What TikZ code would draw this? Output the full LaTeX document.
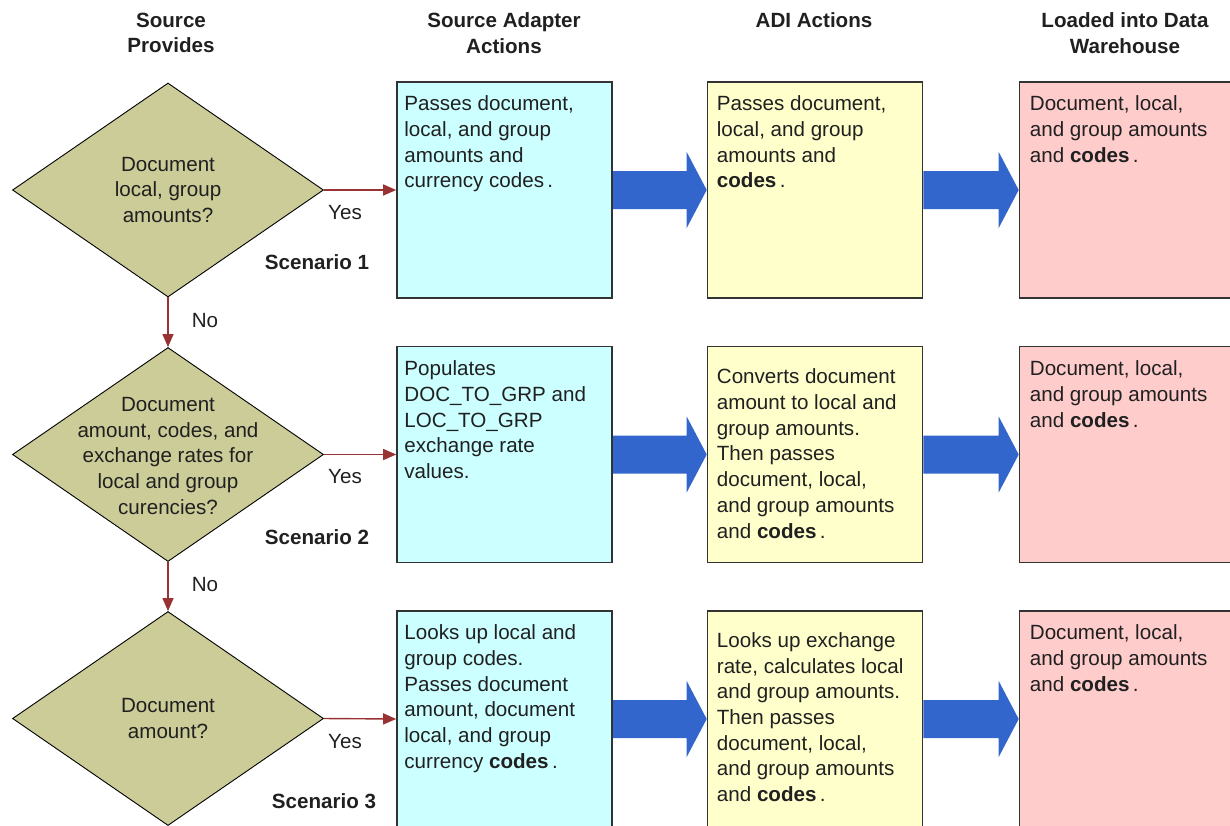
\documentclass[tikz,border=0pt]{standalone}
\usepackage{fontspec}
\setmainfont{Liberation Sans}
\usetikzlibrary{shapes.geometric,arrows.meta,calc,backgrounds}
\definecolor{dfill}{HTML}{CCCC99}
\definecolor{cfill}{HTML}{CCFFFF}
\definecolor{yfill}{HTML}{FFFFCC}
\definecolor{pfill}{HTML}{FFCCCC}
\definecolor{bluearr}{HTML}{3366CC}
\definecolor{redarr}{HTML}{993333}
\definecolor{txtc}{HTML}{202020}
\begin{document}
\begin{tikzpicture}[x=1pt,y=-1pt,
  every node/.style={font=\fontsize{20.6}{25.7}\selectfont, text=txtc},
  dia/.style={diamond, draw=black, line width=0.9pt, fill=dfill, minimum width=311pt, minimum height=214pt, inner sep=0pt},
  box/.style={rectangle, draw=black!80, line width=1.6pt, minimum width=215pt, minimum height=216pt, inner sep=0pt},
  txt/.style={anchor=north west, align=left, inner sep=0pt},
  dtxt/.style={align=center, inner sep=0pt},
  hdr/.style={align=center, inner sep=0pt, font=\fontsize{20.6}{25.7}\selectfont\bfseries},
  flow/.style={draw=redarr, line width=1.4pt, -{Triangle[length=13pt,width=11pt]}},
  lbl/.style={inner sep=0pt},
  scen/.style={inner sep=0pt, font=\fontsize{20.6}{25.7}\selectfont\bfseries},
  big/.style={fill=bluearr}
]
\useasboundingbox (0,0) rectangle (1230,825);
\clip (0,0) rectangle (1230,825);

% headers
\node[hdr] (h1) at (171,33) {Source\\Provides};
\node[hdr] (h2) at (504,33) {Source Adapter\\Actions};
\node[hdr] (h3) at (814,20) {ADI Actions};
\node[hdr] (h4) at (1125,33) {Loaded into Data\\Warehouse};

% diamonds
\node[dia] (d1) at (168,190) {};
\node[dia] (d2) at (168,454.5) {};
\node[dia] (d3) at (168,718.5) {};
\node[dtxt] (d1t) at (d1.center) {Document\\local, group\\amounts?};
\node[dtxt] (d2t) at ($(d2.center)+(0,1.5)$) {Document\\amount, codes, and\\exchange rates for\\local and group\\curencies?};
\node[dtxt] (d3t) at (d3.center) {Document\\amount?};

% boxes
\node[box, fill=cfill] (a1) at (504.5,190) {};
\node[box, fill=cfill] (a2) at (504.5,454.5) {};
\node[box, fill=cfill] (a3) at (504.5,719) {};
\node[box, fill=yfill] (b1) at (815,190) {};
\node[box, fill=yfill] (b2) at (815,454.5) {};
\node[box, fill=yfill] (b3) at (815,719) {};
\node[box, fill=pfill] (c1) at (1127,190) {};
\node[box, fill=pfill] (c2) at (1127,454.5) {};
\node[box, fill=pfill] (c3) at (1127,719) {};

% box texts
\node[txt] (a1t) at ($(a1.north west)+(8,14.5)$) {Passes document,\\local, and group\\amounts and\\currency codes\,.};
\node[txt] (a2t) at ($(a2.north west)+(8,15)$) {Populates\\DOC\_TO\_GRP and\\LOC\_TO\_GRP\\exchange rate\\values.};
\node[txt] (a3t) at ($(a3.north west)+(8,14.5)$) {Looks up local and\\group codes.\\Passes document\\amount, document\\local, and group\\currency \textbf{codes}\,.};
\node[txt] (b1t) at ($(b1.north west)+(10,14.5)$) {Passes document,\\local, and group\\amounts and\\\textbf{codes}\,.};
\node[txt] (b2t) at ($(b2.north west)+(10,23)$) {Converts document\\amount to local and\\group amounts.\\Then passes\\document, local,\\and group amounts\\and \textbf{codes}\,.};
\node[txt] (b3t) at ($(b3.north west)+(10,22)$) {Looks up exchange\\rate, calculates local\\and group amounts.\\Then passes\\document, local,\\and group amounts\\and \textbf{codes}\,.};
\node[txt] (c1t) at ($(c1.north west)+(11,14.5)$) {Document, local,\\and group amounts\\and \textbf{codes}\,.};
\node[txt] (c2t) at ($(c2.north west)+(11,15)$) {Document, local,\\and group amounts\\and \textbf{codes}\,.};
\node[txt] (c3t) at ($(c3.north west)+(11,14.5)$) {Document, local,\\and group amounts\\and \textbf{codes}\,.};

% big blue arrows
\begin{scope}[on background layer]
\foreach \r in {1,2,3}{
  \foreach \s/\t in {a/b,b/c}{
    \fill[big] ($(\s\r.east)+(0,-19)$) -- ($(\t\r.west)+(-20,-19)$) -- ($(\t\r.west)+(-20,-38)$)
      -- (\t\r.west) -- ($(\t\r.west)+(-20,38)$) -- ($(\t\r.west)+(-20,19)$) -- ($(\s\r.east)+(0,19)$) -- cycle;
  }
}
\end{scope}

% red flow arrows
\draw[flow] (d1.east) -- (a1.west);
\draw[flow] (d2.east) -- (a2.west);
\draw[flow] (d3.east) -- (a3.west);
\draw[flow] (d1.south) -- (d2.north);
\draw[flow] (d2.south) -- (d3.north);

% labels
\node[lbl] (y1) at (345,213) {Yes};
\node[lbl] (y2) at (345,477) {Yes};
\node[lbl] (y3) at (345,741) {Yes};
\node[lbl] (n1) at (205,321) {No};
\node[lbl] (n2) at (205,585) {No};
\node[scen] (s1) at (317,262) {Scenario 1};
\node[scen] (s2) at (317,537) {Scenario 2};
\node[scen] (s3) at (324,801) {Scenario 3};
\end{tikzpicture}
\end{document}
